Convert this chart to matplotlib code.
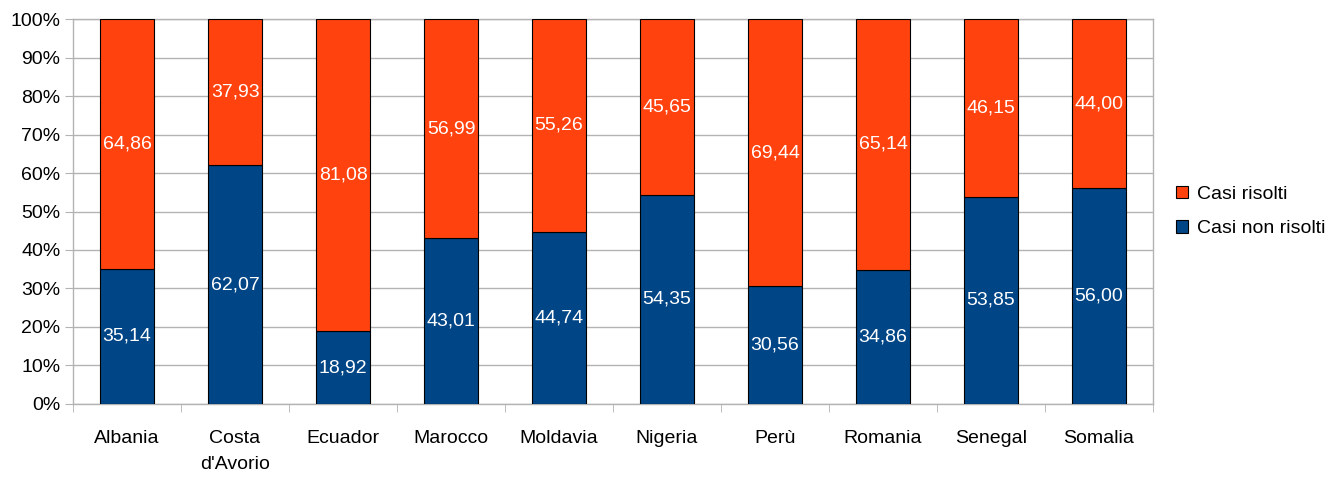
import matplotlib.pyplot as plt
import numpy as np

plt.rcParams['font.family'] = ['Liberation Sans', 'DejaVu Sans']

countries = ['Albania', 'Costa\nd\'Avorio', 'Ecuador', 'Marocco', 'Moldavia',
             'Nigeria', 'Perù', 'Romania', 'Senegal', 'Somalia']
non_risolti = [35.14, 62.07, 18.92, 43.01, 44.74, 54.35, 30.56, 34.86, 53.85, 56.00]
risolti = [64.86, 37.93, 81.08, 56.99, 55.26, 45.65, 69.44, 65.14, 46.15, 44.00]

blue = '#004586'
red = '#ff420e'
grey = '#b3b3b3'
fs = 14

fig = plt.figure(figsize=(13.43, 4.79), dpi=100)
ax = fig.add_axes([0.0544, 0.1566, 0.8041, 0.8037])

x = np.arange(len(countries))
b1 = ax.bar(x, non_risolti, width=0.5, color=blue, edgecolor='black', linewidth=0.8,
            label='Casi non risolti', zorder=3)
b2 = ax.bar(x, risolti, width=0.5, bottom=non_risolti, color=red, edgecolor='black',
            linewidth=0.8, label='Casi risolti', zorder=3)

for xi, nr, r in zip(x, non_risolti, risolti):
    ax.text(xi, nr / 2, f'{nr:.2f}'.replace('.', ','), ha='center', va='center',
            color='white', fontsize=fs, zorder=4)
    ax.text(xi, nr + r / 2, f'{r:.2f}'.replace('.', ','), ha='center', va='center',
            color='white', fontsize=fs, zorder=4)

ax.set_xlim(-0.5, len(countries) - 0.5)
ax.set_ylim(0, 100)
ax.set_yticks(np.arange(0, 101, 10))
ax.set_yticklabels([f'{v}%' for v in range(0, 101, 10)], fontsize=fs)
ax.yaxis.grid(True, color=grey, linewidth=1, zorder=0)

ax.set_xticks(x)
ax.set_xticklabels(countries, fontsize=fs, linespacing=1.65)
ax.set_xticks(np.arange(-0.5, len(countries), 1), minor=True)
ax.tick_params(axis='x', which='major', length=0, pad=19)
ax.tick_params(axis='x', which='minor', length=6, color=grey)
ax.tick_params(axis='y', length=6, color=grey, pad=3)

for s in ax.spines.values():
    s.set_color(grey)
    s.set_linewidth(1)

handles = [b2, b1]
ax.legend(handles, ['Casi risolti', 'Casi non risolti'], loc='center left',
          bbox_to_anchor=(1.005, 0.5), frameon=False, fontsize=fs,
          handlelength=0.6, handleheight=0.6, handletextpad=0.5, labelspacing=0.9)

fig.savefig('out.png', dpi=100)
